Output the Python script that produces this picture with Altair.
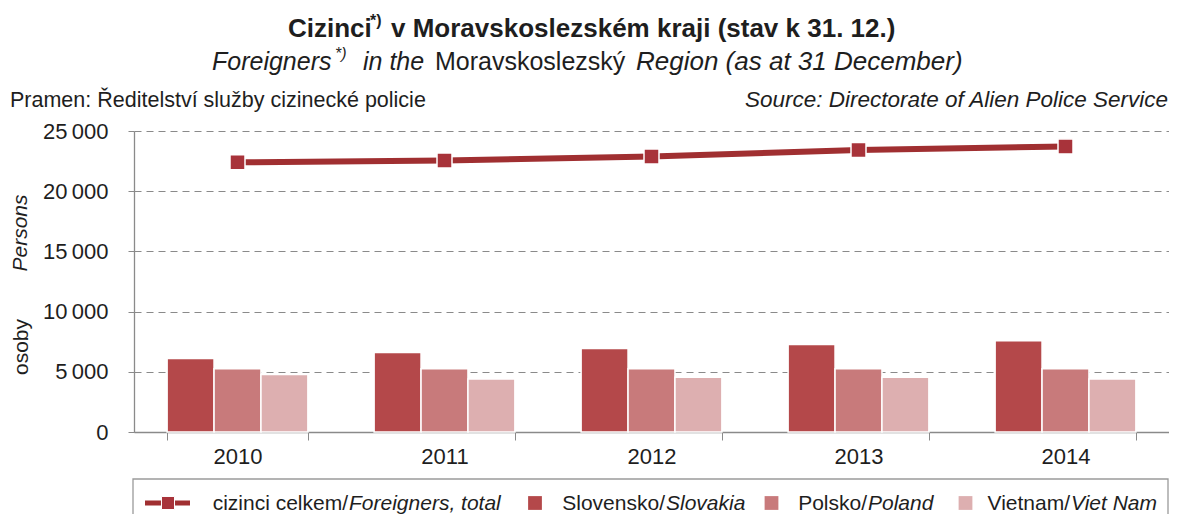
import altair as alt
import pandas as pd

years = ["2010", "2011", "2012", "2013", "2014"]
total = [22400, 22550, 22880, 23430, 23720]
slovakia = [6100, 6600, 6940, 7270, 7580]
poland = [5250, 5250, 5250, 5250, 5250]
vietnam = [4770, 4410, 4550, 4550, 4410]

countries = ["Slovensko", "Polsko", "Vietnam"]
bar_colors = ["#b4484a", "#c87a7b", "#ddafb0"]
line_color = "#a02f31"
marker_color = "#a8333a"

legend_cz = ["cizinci celkem/", "Slovensko/", "Polsko/", "Vietnam/"]
legend_en = ["Foreigners, total", "Slovakia", "Poland", "Viet Nam"]

y_ticks = [0, 5000, 10000, 15000, 20000, 25000]

W, H = 1035, 301
FONT = "Liberation Sans"
TXT = "#1e1e1e"

rows = []
for i, y in enumerate(years):
    for c, vals in zip(countries, [slovakia, poland, vietnam]):
        rows.append({"year": y, "country": c, "value": vals[i]})
bars_df = pd.DataFrame(rows)
line_df = pd.DataFrame({"year": years, "total": total})

xscale = alt.Scale(domain=years, paddingInner=0.32, paddingOuter=0.16)
yscale = alt.Scale(domain=[0, 25000], nice=False)

xaxis = alt.Axis(labelAngle=0, labelFontSize=22, labelFont=FONT, labelColor=TXT,
                 tickBand="extent", tickSize=8, labelPadding=6,
                 domainColor="#8a8a8a", tickColor="#8a8a8a", domainWidth=1.3,
                 grid=False, title=None)
yaxis = alt.Axis(values=y_ticks, labelExpr="replace(format(datum.value, ','), ',', '\u2009')",
                 labelFontSize=22, labelFont=FONT, labelColor=TXT, tickSize=6, labelPadding=20,
                 domainColor="#8a8a8a", tickColor="#8a8a8a", domainWidth=1.3,
                 grid=True, gridColor="#8a8a8a", gridDash=[7, 5], gridWidth=1.2, title=None)

bars = alt.Chart(bars_df).mark_bar(stroke="white", strokeWidth=1.5).encode(
    x=alt.X("year:N", scale=xscale, axis=xaxis, title=None),
    xOffset=alt.XOffset("country:N", sort=countries, scale=alt.Scale(paddingInner=0, paddingOuter=0)),
    y=alt.Y("value:Q", scale=yscale, axis=yaxis),
    color=alt.Color("country:N", sort=countries,
                    scale=alt.Scale(domain=countries, range=bar_colors), legend=None),
)

line = alt.Chart(line_df).mark_line(
    color=line_color, strokeWidth=6,
    point=alt.OverlayMarkDef(shape="square", size=225, filled=True, fill=marker_color,
                             stroke="white", strokeWidth=1.5, opacity=1),
).encode(
    x=alt.X("year:N", scale=xscale),
    y=alt.Y("total:Q", scale=yscale),
)


def txt(s, x, y, size, align="left", baseline="alphabetic", style="normal",
        weight="normal", angle=0, color=TXT):
    kw = dict(fontSize=size, font=FONT, align=align, baseline=baseline,
              fontStyle=style, fontWeight=weight, color=color)
    if angle:
        kw["angle"] = angle
    return alt.Chart(alt.Data(values=[{}])).mark_text(**kw).encode(
        x=alt.value(x), y=alt.value(y), text=alt.value(s))


# page coords -> plot coords: origin at page (134, 131)
OX, OY = 134, 131
annot = [
    # title
    txt("Cizinci", 288 - OX, 37 - OY, 26, weight="bold"),
    txt("*)", 370 - OX, 26 - OY, 16, weight="bold"),
    txt("v Moravskoslezském kraji (stav k 31. 12.)", 391 - OX, 37 - OY, 26, weight="bold"),
    # subtitle
    txt("Foreigners", 212 - OX, 70 - OY, 25, style="italic"),
    txt("*)", 335 - OX, 59 - OY, 16, style="italic"),
    txt("in the", 363 - OX, 70 - OY, 25, style="italic"),
    txt("Moravskoslezský", 435 - OX, 70 - OY, 25),
    txt("Region (as at 31 December)", 636 - OX, 70 - OY, 26, style="italic"),
    # source lines
    txt("Pramen: Ředitelství služby cizinecké policie", 10 - OX, 107 - OY, 21.5),
    txt("Source: Directorate of Alien Police Service", 1168 - OX, 107 - OY, 22.5,
        align="right", style="italic"),
    # y-axis title (rotated)
    txt("osoby", 28 - OX, 347 - OY, 21, align="center", angle=270),
    txt("Persons", 27 - OX, 233 - OY, 21, align="center", style="italic", angle=270),
]

# legend
legend_box = alt.Chart(alt.Data(values=[{}])).mark_rect(
    fill="white", stroke="#9a9a9a", strokeWidth=1.3).encode(
    x=alt.value(133 - OX), x2=alt.value(1168 - OX),
    y=alt.value(479 - OY), y2=alt.value(540 - OY))
LY = 503 - OY
TY = 510 - OY
leg = [legend_box,
       alt.Chart(alt.Data(values=[{}])).mark_rule(color=line_color, strokeWidth=5).encode(
           x=alt.value(145 - OX), x2=alt.value(190 - OX), y=alt.value(LY)),
       alt.Chart(alt.Data(values=[{}])).mark_point(
           shape="square", size=170, filled=True, fill=marker_color, stroke="white",
           strokeWidth=1, opacity=1).encode(x=alt.value(168 - OX), y=alt.value(LY))]
sq_centers = [535, 771.5, 965.5]
splits = [348, 665, 867, 1070]
for i, col in enumerate(bar_colors):
    leg.append(alt.Chart(alt.Data(values=[{}])).mark_point(
        shape="square", size=190, filled=True, fill=col, opacity=1, strokeWidth=0).encode(
        x=alt.value(sq_centers[i] - OX), y=alt.value(LY)))
for i in range(4):
    leg.append(txt(legend_cz[i], splits[i] - OX, TY, 21, align="right"))
    leg.append(txt(legend_en[i], splits[i] + 1 - OX, TY, 21, style="italic"))

chart = alt.layer(bars, line, *annot, *leg).properties(
    width=W, height=H,
    padding={"left": OX - 8, "top": OY - 8, "right": 0, "bottom": 82},
    autosize=alt.AutoSizeParams(type="none"),
    background="white",
).configure_view(stroke=None)

chart.save("out.html", embed_options={"renderer": "svg", "actions": False})
